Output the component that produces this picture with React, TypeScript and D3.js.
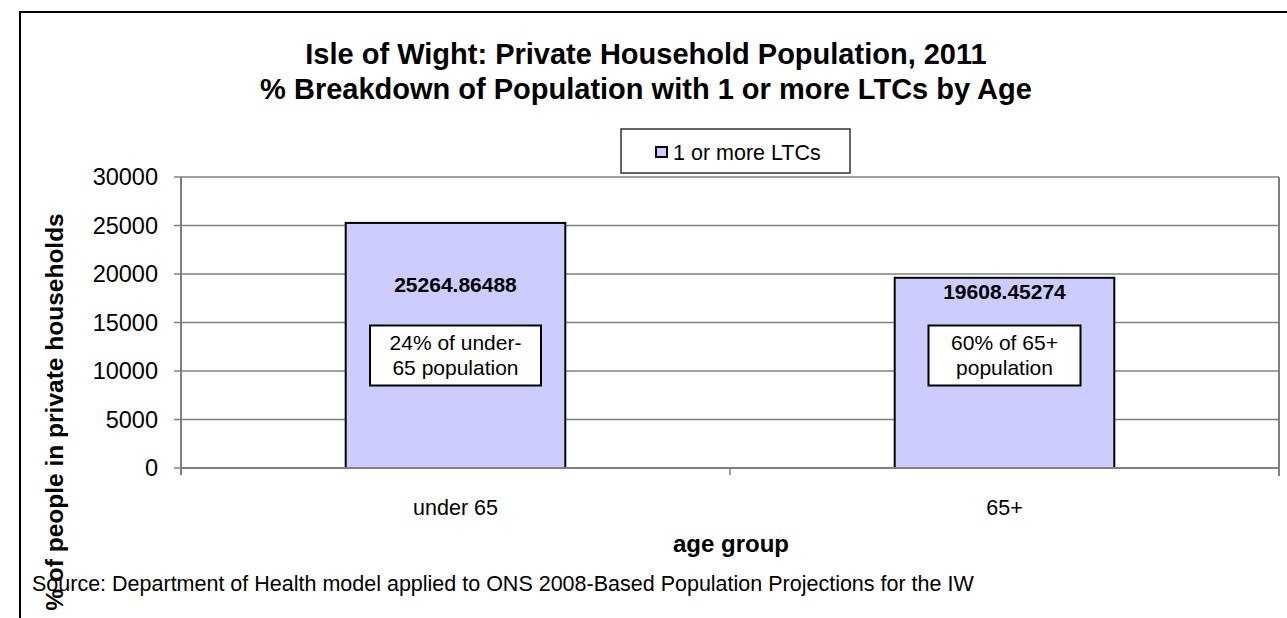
import React from "react";
import * as d3 from "d3";

const categories = ["under 65", "65+"];
const values = [25264.86488, 19608.45274];
const valueLabels = ["25264.86488", "19608.45274"];
const noteLines = [
  ["24% of under-", "65 population"],
  ["60% of 65+", "population"],
];
const yTicks = [0, 5000, 10000, 15000, 20000, 25000, 30000];
const seriesName = "1 or more LTCs";
const titleLines = [
  "Isle of Wight: Private Household Population, 2011",
  "% Breakdown of Population with 1 or more LTCs by Age",
];
const xTitle = "age group";
const yTitle = "% of people in private households";
const source =
  "Source: Department of Health model applied to ONS 2008-Based Population Projections for the IW";

// layout / style
const W = 1287;
const H = 618;
const plot = { left: 181, right: 1279, top: 177, bottom: 468 };
const labelOffsets = [69, 21];
const noteWidths = [171, 152];
const FONT = "'Liberation Sans', Arial, Helvetica, sans-serif";
const GRID = "#808080";
const BAR = "#CCCCFF";

export default function App() {
  const x = d3
    .scaleBand<string>()
    .domain(categories)
    .range([plot.left, plot.right])
    .paddingInner(0.6)
    .paddingOuter(0.3);
  const y = d3.scaleLinear().domain([0, 30000]).range([plot.bottom, plot.top]);
  const step = (plot.right - plot.left) / categories.length;
  const xTickPos = d3.range(categories.length + 1).map((i) => plot.left + i * step);

  return (
    <svg
      width={W}
      height={H}
      style={{ position: "absolute", left: 0, top: 0, background: "#fff" }}
      fontFamily={FONT}
    >
      <rect x={0} y={0} width={W} height={H} fill="#fff" />
      {/* outer frame */}
      <rect x={20} y={12} width={W + 20} height={H + 20} fill="none" stroke="#000" strokeWidth={2} />

      {/* title */}
      {titleLines.map((t, i) => (
        <text
          key={i}
          x={646}
          y={64 + i * 34.5}
          textAnchor="middle"
          fontSize={29}
          fontWeight="bold"
          fill="#000"
        >
          {t}
        </text>
      ))}

      {/* legend */}
      <rect x={621} y={129} width={229} height={44} fill="#fff" stroke="#333" strokeWidth={1.5} />
      <rect x={656} y={147} width={11} height={10} fill={BAR} stroke="#000" strokeWidth={2} />
      <text x={673} y={160} fontSize={21.5} fill="#000">
        {seriesName}
      </text>

      {/* gridlines */}
      {yTicks.map((t) => (
        <line
          key={t}
          x1={plot.left}
          x2={plot.right}
          y1={y(t)}
          y2={y(t)}
          stroke={GRID}
          strokeWidth={1.5}
        />
      ))}
      {/* right plot border */}
      <line x1={plot.right} x2={plot.right} y1={plot.top} y2={plot.bottom + 8} stroke={GRID} strokeWidth={2} />

      {/* bars */}
      {categories.map((c, i) => {
        const bx = x(c)!;
        const bw = x.bandwidth();
        const cx = bx + bw / 2;
        const ly = y(values[i]) + labelOffsets[i];
        const nw = noteWidths[i];
        return (
          <g key={c}>
            <rect
              x={bx}
              y={y(values[i])}
              width={bw}
              height={plot.bottom - y(values[i])}
              fill={BAR}
              stroke="#000"
              strokeWidth={2}
            />
            <text x={cx} y={ly} textAnchor="middle" fontSize={21} fontWeight="bold" fill="#000">
              {valueLabels[i]}
            </text>
            <rect
              x={cx - nw / 2}
              y={325.5}
              width={nw}
              height={60}
              fill="#fff"
              stroke="#000"
              strokeWidth={2}
            />
            {noteLines[i].map((l, j) => (
              <text key={j} x={cx} y={350 + j * 25} textAnchor="middle" fontSize={21} fill="#000">
                {l}
              </text>
            ))}
          </g>
        );
      })}

      {/* y axis */}
      <line x1={plot.left} x2={plot.left} y1={plot.top} y2={plot.bottom + 7} stroke={GRID} strokeWidth={2} />
      {yTicks.map((t) => (
        <g key={t}>
          <line x1={plot.left - 7} x2={plot.left} y1={y(t)} y2={y(t)} stroke={GRID} strokeWidth={1.5} />
          <text
            x={158}
            y={y(t)}
            dy="0.35em"
            textAnchor="end"
            fontSize={23.5}
            fill="#000"
          >
            {t}
          </text>
        </g>
      ))}

      {/* x axis */}
      <line x1={plot.left} x2={plot.right} y1={plot.bottom} y2={plot.bottom} stroke={GRID} strokeWidth={2} />
      {xTickPos.map((p, i) => (
        <line key={i} x1={p} x2={p} y1={plot.bottom} y2={plot.bottom + 7} stroke={GRID} strokeWidth={1.5} />
      ))}
      {categories.map((c) => (
        <text key={c} x={x(c)! + x.bandwidth() / 2} y={515} textAnchor="middle" fontSize={21.5} fill="#000">
          {c}
        </text>
      ))}

      {/* axis titles */}
      <text x={731} y={552} textAnchor="middle" fontSize={24} fontWeight="bold" fill="#000">
        {xTitle}
      </text>
      <text
        transform="translate(63,412) rotate(-90)"
        textAnchor="middle"
        fontSize={24.5}
        fontWeight="bold"
        fill="#000"
      >
        {yTitle}
      </text>

      {/* source */}
      <text x={32} y={591} fontSize={21.5} fill="#000">
        {source}
      </text>
    </svg>
  );
}
